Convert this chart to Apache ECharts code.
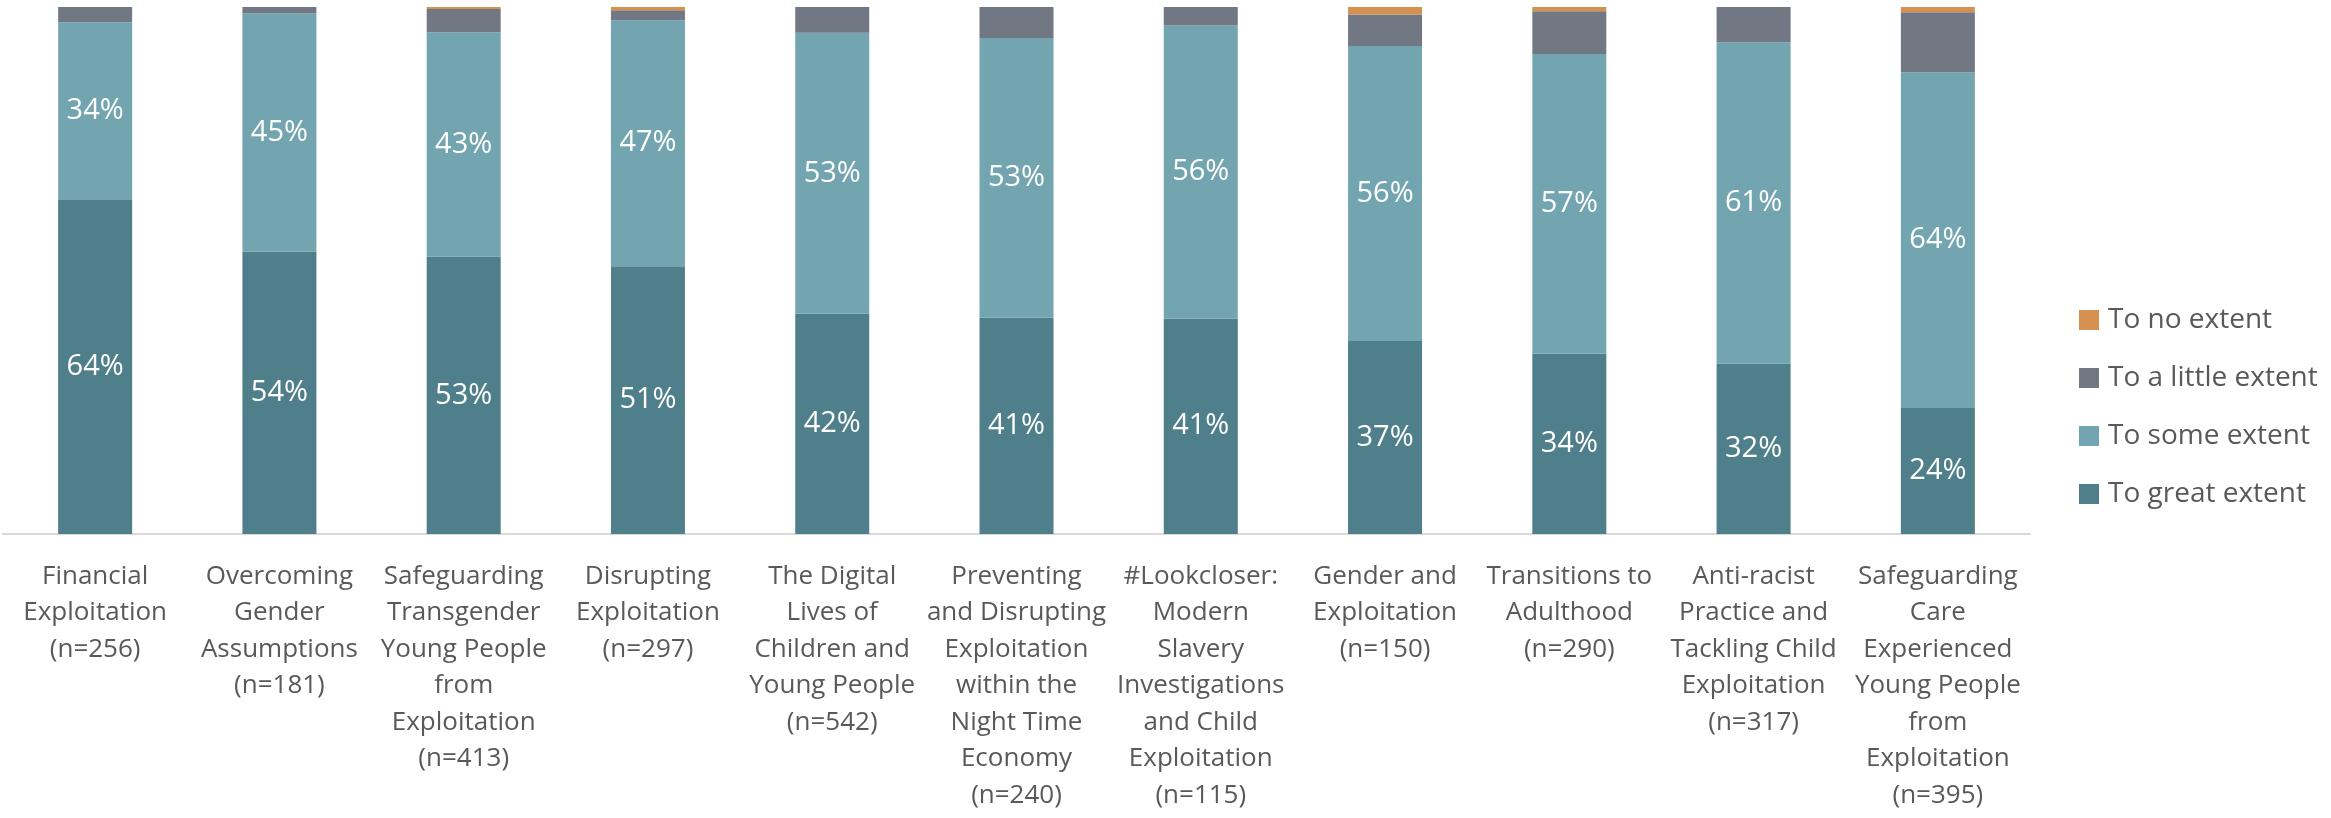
<!DOCTYPE html>
<html>
<head>
    <meta charset="UTF-8">
    <title>Extent of learning by course</title>
    <style>
        html, body {
            margin: 0;
            padding: 0;
            width: 100%;
            height: 100%;
            overflow: hidden;
            background: #fff;
        }
        #main {
            width: 2331px;
            height: 818px;
        }
    </style>
    <script src="https://cdn.jsdelivr.net/npm/echarts@6/dist/echarts.min.js"></script>
</head>
<body>
    <div id="main"></div>

    <script>
        // Courses (x axis), wrapped the way the original labels wrap
        const categories = [
            'Financial\nExploitation\n(n=256)',
            'Overcoming\nGender\nAssumptions\n(n=181)',
            'Safeguarding\nTransgender\nYoung People\nfrom\nExploitation\n(n=413)',
            'Disrupting\nExploitation\n(n=297)',
            'The Digital\nLives of\nChildren and\nYoung People\n(n=542)',
            'Preventing\nand Disrupting\nExploitation\nwithin the\nNight Time\nEconomy\n(n=240)',
            '#Lookcloser:\nModern\nSlavery\nInvestigations\nand Child\nExploitation\n(n=115)',
            'Gender and\nExploitation\n(n=150)',
            'Transitions to\nAdulthood\n(n=290)',
            'Anti-racist\nPractice and\nTackling Child\nExploitation\n(n=317)',
            'Safeguarding\nCare\nExperienced\nYoung People\nfrom\nExploitation\n(n=395)'
        ];

        // Percentages per response
        const greatExtent  = [63.5, 53.6, 52.6, 50.8, 41.8, 41.1, 40.9, 36.6, 34.2, 32.3, 23.9];
        const someExtent   = [33.6, 45.2, 42.6, 46.7, 53.3, 53.0, 55.6, 56.0, 56.9, 61.0, 63.7];
        const littleExtent = [2.9, 1.2, 4.4, 1.9, 4.9, 5.9, 3.5, 6.0, 8.1, 6.7, 11.4];
        const noExtent     = [0, 0, 0.4, 0.6, 0, 0, 0, 1.4, 0.8, 0, 1.0];

        const FONT = '"Open Sans", "Noto Sans", sans-serif';
        const TEXT = '#595959';

        function barSeries(name, data, color, showLabel) {
            return {
                name: name,
                type: 'bar',
                stack: 'total',
                barWidth: 74,
                data: data,
                itemStyle: { color: color },
                label: {
                    show: showLabel,
                    position: 'inside',
                    color: '#fff',
                    fontFamily: FONT,
                    fontSize: 29,
                    formatter: p => Math.round(p.value) + '%'
                },
                emphasis: { disabled: true }
            };
        }

        const chart = echarts.init(document.getElementById('main'));
        chart.setOption({
            animation: false,
            textStyle: { fontFamily: FONT },
            grid: { left: 3, right: 301, top: 7, bottom: 284, containLabel: false },
            legend: {
                orient: 'vertical',
                left: 2074,
                top: 300,
                itemWidth: 20,
                itemHeight: 20,
                itemGap: 28,
                icon: 'rect',
                data: ['To no extent', 'To a little extent', 'To some extent', 'To great extent'],
                textStyle: {
                    color: TEXT,
                    fontFamily: FONT,
                    fontSize: 28,
                    lineHeight: 30,
                    padding: [0, 0, 0, 4]
                }
            },
            xAxis: {
                type: 'category',
                data: categories,
                axisTick: { show: false },
                axisLine: { lineStyle: { color: '#d9d9d9', width: 2 } },
                axisLabel: {
                    interval: 0,
                    color: TEXT,
                    fontFamily: FONT,
                    fontSize: 26,
                    lineHeight: 36.5,
                    margin: 24,
                    align: 'center'
                }
            },
            yAxis: {
                type: 'value',
                min: 0,
                max: 100,
                show: false
            },
            series: [
                barSeries('To great extent', greatExtent, '#4f7f8a', true),
                barSeries('To some extent', someExtent, '#73a5b0', true),
                barSeries('To a little extent', littleExtent, '#727784', false),
                barSeries('To no extent', noExtent, '#d4914f', false)
            ]
        });
    </script>
</body>
</html>
